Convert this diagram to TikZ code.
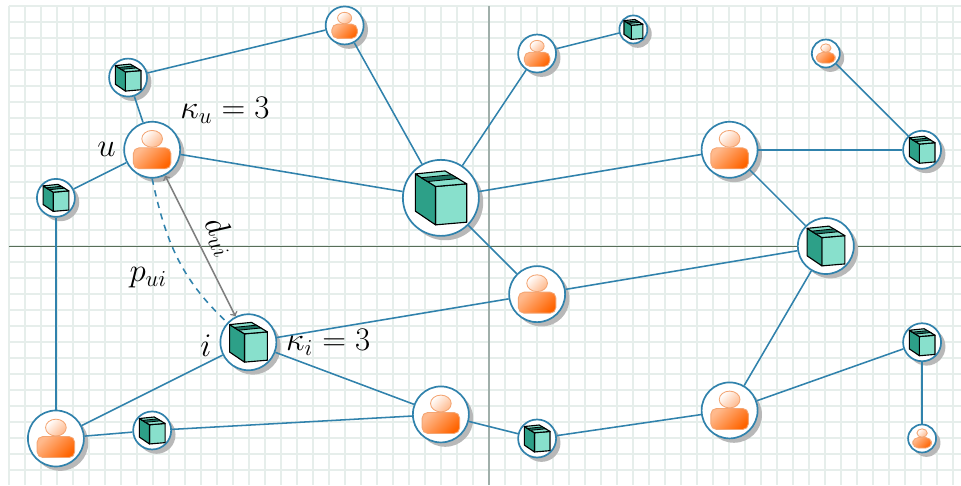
\documentclass[tikz,border=0pt]{standalone}
\usetikzlibrary{positioning,shadows,arrows}

\definecolor{linkblue}{RGB}{48,130,172}
\definecolor{boxlight}{RGB}{136,224,204}
\definecolor{boxdark}{RGB}{45,160,136}
\definecolor{boxtape}{RGB}{28,112,96}
\definecolor{gridgray}{RGB}{230,238,235}
\definecolor{axisgray}{RGB}{160,175,170}
\definecolor{axisgreen}{RGB}{88,110,88}
\definecolor{usermid}{RGB}{255,185,140}
\definecolor{userdeep}{RGB}{255,100,0}
\definecolor{userline}{RGB}{243,165,115}

\tikzset{
  base/.style={draw=linkblue,line width=1.2pt,fill=white,circle,inner sep=0pt,
    drop shadow={shadow xshift=3.1pt,shadow yshift=-3.1pt,fill=black!28,opacity=1}},
  big/.style={base,minimum size=1.9cm},
  mid/.style={base,minimum size=1.4cm},
  low/.style={base,minimum size=.95cm},
  tiny/.style={base,minimum size=.7cm},
  link/.style={draw=linkblue,line width=1.1pt},
  mathtext/.style={scale=1.13,font=\huge},
  user/.pic={
    \draw[draw=userline,line width=.6pt,shading=axis,top color=white,bottom color=usermid,shading angle=45]
      (0,.39) ellipse (.37 and .30);
    \draw[draw=userline,line width=.6pt,rounded corners=.14cm,shading=axis,top color=usermid,bottom color=userdeep,shading angle=45]
      (-.67,-.68) rectangle (.67,.07);
  },
  cube/.pic={
    \draw[fill=boxlight,line width=.8pt,line join=round] (-.14,.30) -- (.68,.37) -- (.68,-.64) -- (-.14,-.71) -- cycle;
    \draw[fill=boxdark,line width=.8pt,line join=round] (-.14,.30) -- (-.14,-.71) -- (-.67,-.35) -- (-.67,.63) -- cycle;
    \draw[fill=boxlight,line width=.8pt,line join=round] (-.67,.63) -- (.11,.71) -- (.68,.37) -- (-.14,.30) -- cycle;
    \draw[fill=boxtape,line width=.6pt] (-.51,.53) -- (.28,.61) -- (.45,.51) -- (-.35,.43) -- cycle;
  }
}

\begin{document}
\begin{tikzpicture}[x=0.4cm,y=0.4cm]
\useasboundingbox[fill=white] (-30.5625,-14.9375) rectangle (29.5,15.375);
\draw[gridgray,line width=1pt,step=1] (-30,-14.9375) grid (29.5,15);
\draw[axisgray,line width=1.5pt] (0,15) -- (0,-14.9375);
\draw[axisgreen,line width=.7pt] (-30,0) -- (29.5,0);

\begin{scope}[x=0.401cm,y=0.401cm]
\node[big] (i1) at (-3,3) {};
\node[mid] (i) at (-15,-6) {};
\node[mid] (i2) at (21,0) {};
\node[low] (i3) at (-22.5,10.5) {};
\node[low] (i4) at (-27,3) {};
\node[low] (i5) at (27,6) {};
\node[low] (i6) at (-21,-11.5) {};
\node[low] (i7) at (3,-12) {};
\node[low] (i8) at (27,-6) {};
\node[tiny] (i9) at (9,13.5) {};

\node[mid] (u) at (-21,6) {};
\node[mid] (u1) at (15,6) {};
\node[mid] (u2) at (3,-3) {};
\node[mid] (u3) at (-3,-10.5) {};
\node[mid] (u4) at (-27,-12) {};
\node[mid] (u5) at (15,-10.25) {};
\node[low] (u6) at (-9,13.75) {};
\node[low] (u7) at (3,12) {};
\node[tiny] (u8) at (21,12) {};
\node[tiny] (u9) at (27,-12) {};
\end{scope}

\pic[scale=2.375] at (i1) {cube};
\pic[scale=1.75] at (i) {cube};
\pic[scale=1.75] at (i2) {cube};
\pic[scale=1.1875] at (i3) {cube};
\pic[scale=1.1875] at (i4) {cube};
\pic[scale=1.1875] at (i5) {cube};
\pic[scale=1.1875] at (i6) {cube};
\pic[scale=1.1875] at (i7) {cube};
\pic[scale=1.1875] at (i8) {cube};
\pic[scale=.875] at (i9) {cube};

\pic[scale=1.75] at (u) {user};
\pic[scale=1.75] at (u1) {user};
\pic[scale=1.75] at (u2) {user};
\pic[scale=1.75] at (u3) {user};
\pic[scale=1.75] at (u4) {user};
\pic[scale=1.75] at (u5) {user};
\pic[scale=1.1875] at (u6) {user};
\pic[scale=1.1875] at (u7) {user};
\pic[scale=.875] at (u8) {user};
\pic[scale=.875] at (u9) {user};

\draw[link] (i3) -- (u6);
\draw[link] (i3) -- (u);
\draw[link] (u) -- (i4);
\draw[link] (u) -- (i1);
\draw[link] (u6) -- (i1);
\draw[link] (i1) -- (u7);
\draw[link] (u7) -- (i9);
\draw[link] (u8) -- (i5);
\draw[link] (i5) -- (u1);
\draw[link] (u1) -- (i1);
\draw[link] (u1) -- (i2);
\draw[link] (i1) -- (u2);
\draw[link] (u2) -- (i2);
\draw[link] (u2) -- (i);
\draw[link] (i) -- (u3);
\draw[link] (i) -- (u4);
\draw[link] (u4) -- (i4);
\draw[link] (u4) -- (i6);
\draw[link] (i6) -- (u3);
\draw[link] (u3) -- (i7);
\draw[link] (i7) -- (u5);
\draw[link] (u5) -- (i2);
\draw[link] (u5) -- (i8);
\draw[link] (i8) -- (u9);

\draw[gray,line width=1.1pt,<->,>=to] (u) -- (i);
\draw[link,dash pattern=on 4.5pt off 4pt] (u.south) to[out=-78,in=137] (i.137);

\node[mathtext] (ulabel) at (-23.9,6.05) {$u$};
\node[mathtext] (ilabel) at (-17.7,-6.25) {$i$};
\node[mathtext] (kappau) at (-16.5,8.5) {$\kappa_u=3$};
\node[mathtext] (kappai) at (-10.05,-6) {$\kappa_i=3$};
\node[mathtext,rotate=-63] (dui) at (-16.8,0.6) {$d_{ui}$};
\node[mathtext] (pui) at (-21.3,-2) {$p_{ui}$};
\end{tikzpicture}
\end{document}
